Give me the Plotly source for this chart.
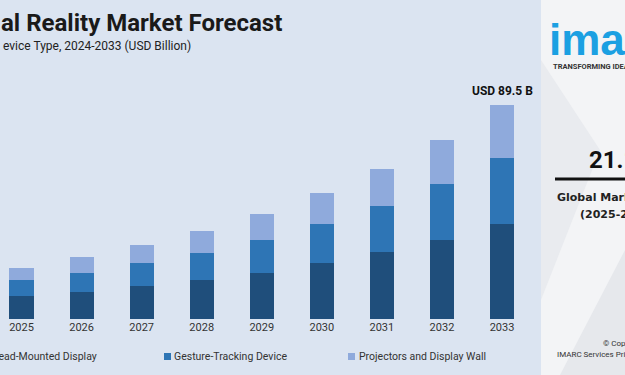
import plotly.graph_objects as go

years = ["2025", "2026", "2027", "2028", "2029", "2030", "2031", "2032", "2033"]
head_mounted = [9.6, 11.3, 13.7, 16.5, 19.4, 23.3, 27.9, 33.2, 39.8]
gesture_tracking = [6.7, 8.1, 9.8, 11.3, 13.8, 16.3, 19.4, 23.3, 27.8]
projectors = [5.2, 6.4, 7.4, 9.0, 10.6, 13.0, 15.5, 18.4, 21.9]
series_names = ["Head-Mounted Display", "Gesture-Tracking Device", "Projectors and Display Wall"]
colors = ["#1f4e7b", "#2e75b5", "#8faadc"]
total_label = "USD 89.5 B"

W, H = 625, 375
L, R, T, B = 0, 83, 80, 56
PW, PH = W - L - R, H - T - B


def px(x):
    return (x - L) / PW


def py(y):
    return (H - B - y) / PH


FONT = "Roboto"
fig = go.Figure()
xs = list(range(len(years)))
for vals, name, col in zip([head_mounted, gesture_tracking, projectors], series_names, colors):
    fig.add_trace(go.Bar(x=xs, y=vals, name=name, marker=dict(color=col, line=dict(width=0)),
                         width=0.4, showlegend=False, hoverinfo="y+name"))

shapes = [
    dict(type="rect", xref="paper", yref="paper", x0=px(541), x1=px(W + 5), y0=py(H + 5), y1=py(-5),
         fillcolor="#f3f4f6", line=dict(width=0), layer="below"),
    dict(type="path", xref="paper", yref="paper",
         path=f"M {px(541)},{py(60)} L {px(600)},{py(150)} L {px(541)},{py(300)} Z",
         fillcolor="#e9ebef", line=dict(width=0), layer="below"),
    dict(type="path", xref="paper", yref="paper",
         path=f"M {px(560)},{py(375)} L {px(625)},{py(250)} L {px(625)},{py(375)} Z",
         fillcolor="#e6e8ec", line=dict(width=0), layer="below"),
    dict(type="line", xref="paper", yref="paper", x0=px(555), x1=px(W + 5), y0=py(179), y1=py(179),
         line=dict(color="#111111", width=3)),
    dict(type="rect", xref="paper", yref="paper", x0=px(164), x1=px(171), y0=py(360), y1=py(353),
         fillcolor=colors[1], line=dict(width=0)),
    dict(type="rect", xref="paper", yref="paper", x0=px(348), x1=px(355), y0=py(360), y1=py(353),
         fillcolor=colors[2], line=dict(width=0)),
]

ann = []


def text(x, y, s, size, color="#222222", bold=False, xanchor="left", family=FONT):
    ann.append(dict(x=px(x), y=py(y), xref="paper", yref="paper", text=f"<b>{s}</b>" if bold else s,
                    showarrow=False, xanchor=xanchor, yanchor="middle",
                    font=dict(size=size, color=color, family=family)))


PANEL = "DejaVu Sans"
text(-1, 23, "al Reality Market Forecast", 24, "#1a1a1a", True)
text(1, 46, "evice Type, 2024-2033 (USD Billion)", 12, "#222222", False, "left")
text(99, 356, series_names[0], 10.5, "#333333", False, "right")
text(172, 356, series_names[1], 10.5, "#333333")
text(357, 356, series_names[2], 10.5, "#333333")
# right panel
text(547, 39, "imarc", 44, "#1ba0e2", True, family="Liberation Sans")
text(551, 67, "TRANSFORMING IDEAS INTO IMPACT", 7.5, "#333333", True)
text(587, 160, "21.1%", 24, "#111111", True)
text(555, 197, "Global Market Growth Rate", 11, "#222222", True, family=PANEL)
text(578, 214, "(2025-2033)", 11, "#222222", True, family=PANEL)
text(601, 343, "© Copyright", 8, "#333333")
text(555, 354, "IMARC Services Private Limited", 8, "#333333")

ann.append(dict(x=8, y=sum([head_mounted[-1], gesture_tracking[-1], projectors[-1]]), xref="x", yref="y",
                text=f"<b>{total_label}</b>", showarrow=False, yanchor="bottom", yshift=5,
                font=dict(size=12, color="#111111", family=FONT)))

fig.update_layout(
    width=W, height=H, margin=dict(l=L, r=R, t=T, b=B),
    barmode="stack", bargap=0.6,
    paper_bgcolor="#dbe4f1", plot_bgcolor="rgba(0,0,0,0)",
    xaxis=dict(range=[-0.358, 8.666], tickvals=xs, ticktext=years, showgrid=False, zeroline=False,
               showline=False, ticks="", tickfont=dict(size=11, color="#333333", family=FONT)),
    yaxis=dict(range=[0, PH / 2.388], visible=False, showgrid=False, zeroline=False),
    shapes=shapes, annotations=ann, showlegend=False,
)
fig.write_html("out.html", config={"displayModeBar": False},
               post_script="document.body.style.margin='0';document.body.style.overflow='hidden';")
